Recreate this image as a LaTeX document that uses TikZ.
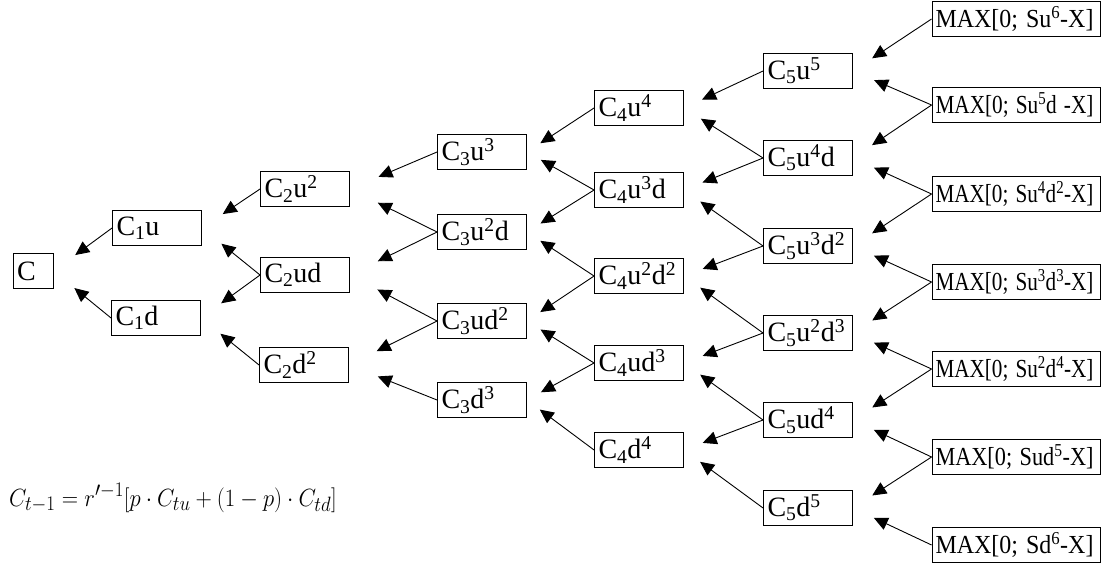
\documentclass[tikz,border=0pt]{standalone}
\usepackage{fontspec}
\usepackage{graphicx}
\setmainfont{Liberation Serif}
\usetikzlibrary{arrows.meta}
\newcommand{\lw}[1]{\textsubscript{#1}}
\newcommand{\pw}[1]{\textsuperscript{#1}}
\newcommand{\fitpay}[1]{\resizebox{158pt}{\height}{#1}}
\tikzset{
  cell/.style={draw, line width=0.9pt, inner xsep=4pt, inner ysep=0pt,
    minimum height=35pt, text width=#1, align=left,
    font=\fontsize{28}{30}\selectfont},
  cell/.default=81pt,
  payoff/.style={cell=161pt, inner xsep=3.5pt, font=\fontsize{26}{28}\selectfont},
  back/.style={line width=0.9pt, -{Triangle[length=14pt,width=13pt]}, shorten >=#1},
}
\begin{document}
\begin{tikzpicture}[x=1pt, y=-1pt]
        \useasboundingbox (0,0) rectangle (1108,569);
        \node[cell=32pt] (c) at (33,271) {C};
        \node[cell] (c1u) at (157,228) {C\lw{1}u};
        \node[cell] (c1d) at (156,318) {C\lw{1}d};
        \node[cell] (c2u2) at (305,189) {C\lw{2}u\pw{2}};
        \node[cell] (c2ud) at (305,275) {C\lw{2}ud};
        \node[cell] (c2d2) at (304,365) {C\lw{2}d\pw{2}};
        \node[cell] (c3u3) at (482,152) {C\lw{3}u\pw{3}};
        \node[cell] (c3u2d) at (482,232) {C\lw{3}u\pw{2}d};
        \node[cell] (c3ud2) at (482,321) {C\lw{3}ud\pw{2}};
        \node[cell] (c3d3) at (482,400) {C\lw{3}d\pw{3}};
        \node[cell] (c4u4) at (639,108) {C\lw{4}u\pw{4}};
        \node[cell] (c4u3d) at (639,190) {C\lw{4}u\pw{3}d};
        \node[cell] (c4u2d2) at (639,276) {C\lw{4}u\pw{2}d\pw{2}};
        \node[cell] (c4ud3) at (639,363) {C\lw{4}ud\pw{3}};
        \node[cell] (c4d4) at (639,450) {C\lw{4}d\pw{4}};
        \node[cell] (c5u5) at (808,71) {C\lw{5}u\pw{5}};
        \node[cell] (c5u4d) at (808,158) {C\lw{5}u\pw{4}d};
        \node[cell] (c5u3d2) at (808,246) {C\lw{5}u\pw{3}d\pw{2}};
        \node[cell] (c5u2d3) at (808,333) {C\lw{5}u\pw{2}d\pw{3}};
        \node[cell] (c5ud4) at (808,420) {C\lw{5}ud\pw{4}};
        \node[cell] (c5d5) at (808,508) {C\lw{5}d\pw{5}};
        \node[payoff] (mu6) at (1016,19) {\fitpay{MAX[0; Su\pw{6}-X]}};
        \node[payoff] (mu5d) at (1016,105) {\fitpay{MAX[0; Su\pw{5}d -X]}};
        \node[payoff] (mu4d2) at (1016,194) {\fitpay{MAX[0; Su\pw{4}d\pw{2}-X]}};
        \node[payoff] (mu3d3) at (1016,282) {\fitpay{MAX[0; Su\pw{3}d\pw{3}-X]}};
        \node[payoff] (mu2d4) at (1016,369) {\fitpay{MAX[0; Su\pw{2}d\pw{4}-X]}};
        \node[payoff] (mud5) at (1016,457) {\fitpay{MAX[0; Sud\pw{5}-X]}};
        \node[payoff] (md6) at (1016,545) {\fitpay{MAX[0; Sd\pw{6}-X]}};
        \node[anchor=base west, inner sep=0pt] (rule) at (9,506)
          {\fontsize{32}{36}\selectfont\scalebox{0.91}[1]{$C_{t-1} = r^{\prime -1}[p \cdot C_{tu} + (1-p) \cdot C_{td}]$}};
        \draw[back=27pt] (c1u.west) -- (c.east);
        \draw[back=27pt] (c1d.west) -- (c.east);
        \draw[back=25pt] (c2u2.west) -- (c1u.east);
        \draw[back=25pt] (c2ud.west) -- (c1u.east);
        \draw[back=25pt] (c2ud.west) -- (c1d.east);
        \draw[back=25pt] (c2d2.west) -- (c1d.east);
        \draw[back=31pt] (c3u3.west) -- (c2u2.east);
        \draw[back=31pt] (c3u2d.west) -- (c2u2.east);
        \draw[back=31pt] (c3u2d.west) -- (c2ud.east);
        \draw[back=31pt] (c3ud2.west) -- (c2ud.east);
        \draw[back=31pt] (c3ud2.west) -- (c2d2.east);
        \draw[back=31pt] (c3d3.west) -- (c2d2.east);
        \draw[back=16pt] (c4u4.west) -- (c3u3.east);
        \draw[back=16pt] (c4u3d.west) -- (c3u3.east);
        \draw[back=16pt] (c4u3d.west) -- (c3u2d.east);
        \draw[back=16pt] (c4u2d2.west) -- (c3u2d.east);
        \draw[back=16pt] (c4u2d2.west) -- (c3ud2.east);
        \draw[back=16pt] (c4ud3.west) -- (c3ud2.east);
        \draw[back=16pt] (c4ud3.west) -- (c3d3.east);
        \draw[back=16pt] (c4d4.west) -- (c3d3.east);
        \draw[back=20pt] (c5u5.west) -- (c4u4.east);
        \draw[back=20pt] (c5u4d.west) -- (c4u4.east);
        \draw[back=20pt] (c5u4d.west) -- (c4u3d.east);
        \draw[back=20pt] (c5u3d2.west) -- (c4u3d.east);
        \draw[back=20pt] (c5u3d2.west) -- (c4u2d2.east);
        \draw[back=20pt] (c5u2d3.west) -- (c4u2d2.east);
        \draw[back=20pt] (c5u2d3.west) -- (c4ud3.east);
        \draw[back=20pt] (c5ud4.west) -- (c4ud3.east);
        \draw[back=20pt] (c5ud4.west) -- (c4d4.east);
        \draw[back=20pt] (c5d5.west) -- (c4d4.east);
        \draw[back=23pt] (mu6.west) -- (c5u5.east);
        \draw[back=23pt] (mu5d.west) -- (c5u5.east);
        \draw[back=23pt] (mu5d.west) -- (c5u4d.east);
        \draw[back=23pt] (mu4d2.west) -- (c5u4d.east);
        \draw[back=23pt] (mu4d2.west) -- (c5u3d2.east);
        \draw[back=23pt] (mu3d3.west) -- (c5u3d2.east);
        \draw[back=23pt] (mu3d3.west) -- (c5u2d3.east);
        \draw[back=23pt] (mu2d4.west) -- (c5u2d3.east);
        \draw[back=23pt] (mu2d4.west) -- (c5ud4.east);
        \draw[back=23pt] (mud5.west) -- (c5ud4.east);
        \draw[back=23pt] (mud5.west) -- (c5d5.east);
        \draw[back=23pt] (md6.west) -- (c5d5.east);
    \end{tikzpicture}
\end{document}
